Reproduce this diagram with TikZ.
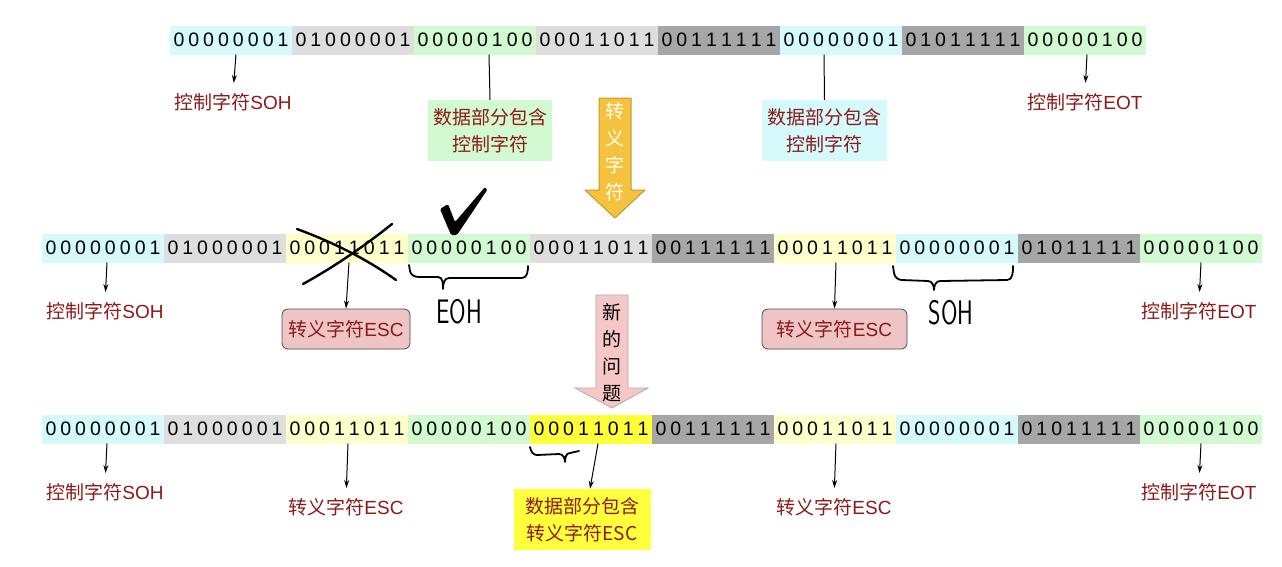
\documentclass[tikz,border=0pt]{standalone}
\usepackage{fontspec}
\setmainfont{Liberation Sans}
\newfontfamily\cjk{Noto Sans CJK SC}
\usetikzlibrary{arrows.meta}

\definecolor{cCyan}{HTML}{D4FAFC}
\definecolor{cLgray}{HTML}{DEDEDE}
\definecolor{cGreen}{HTML}{D2FAD0}
\definecolor{cDgray}{HTML}{A6A6A6}
\definecolor{cLyel}{HTML}{FFFFCC}
\definecolor{cByel}{HTML}{FFFF3C}
\definecolor{cRed}{HTML}{8C1A1A}
\definecolor{cPinkbox}{HTML}{EEC4C4}
\definecolor{cGold}{HTML}{F5C240}
\definecolor{cGoldEdge}{HTML}{C9982A}
\definecolor{cPinkArrow}{HTML}{F7C6C6}

\newcommand\bitsq[8]{\makebox[115pt]{#1\hfill#2\hfill#3\hfill#4\hfill#5\hfill#6\hfill#7\hfill#8}}

\tikzset{
  byte/.style={minimum width=122pt, minimum height=29pt, inner sep=0pt, outer sep=0pt,
    font=\fontsize{19.5}{19.5}\selectfont},
  lbl/.style={text=cRed, font=\fontsize{19}{22}\selectfont, inner sep=0pt},
  arr/.style={-{Stealth[length=8pt,width=5pt]}, line width=1pt},
  plainline/.style={line width=1pt},
  escbox/.style={rounded corners=6pt, fill=cPinkbox, draw=gray!60!black, line width=0.8pt,
    text=cRed, minimum height=40pt, inner sep=0pt, font=\fontsize{19}{22}\selectfont},
  databox/.style={text=cRed, minimum height=61pt, inner sep=0pt, align=center,
    font=\cjk\fontsize{19}{27}\selectfont},
  hand/.style={line width=2.4pt, line cap=round, line join=round},
  handtxt/.style={font=\sffamily\fontsize{34}{34}\selectfont, xscale=0.7, inner sep=0pt},
  vtxt/.style={align=center, inner sep=0pt, font=\cjk\fontsize{19}{27}\selectfont}
}

\begin{document}
\begin{tikzpicture}[x=1pt,y=-1pt]
\useasboundingbox (0,0) rectangle (1282,566);
\fill[white] (0,0) rectangle (1282,566);

% ---------------- top row ----------------
\node[byte,fill=cCyan]  (t1) at (231,40)  {\bitsq00000001};
\node[byte,fill=cLgray] (t2) at (353,40)  {\bitsq01000001};
\node[byte,fill=cGreen] (t3) at (475,40)  {\bitsq00000100};
\node[byte,fill=cLgray] (t4) at (597,40)  {\bitsq00011011};
\node[byte,fill=cDgray] (t5) at (719,40)  {\bitsq00111111};
\node[byte,fill=cCyan]  (t6) at (841,40)  {\bitsq00000001};
\node[byte,fill=cDgray] (t7) at (963,40)  {\bitsq01011111};
\node[byte,fill=cGreen] (t8) at (1085,40) {\bitsq00000100};

\node[lbl] (tl1) at (233,102) {{\cjk 控制字符}SOH};
\node[lbl] (tl4) at (1085,102) {{\cjk 控制字符}EOT};
\node[databox, fill=cGreen, minimum width=124pt] (tg) at (490,130.5) {数据部分包含\\控制字符};
\node[databox, fill=cCyan, minimum width=125pt] (tc) at (824.5,130.5) {数据部分包含\\控制字符};

\draw[arr, shorten >=10pt] ([xshift=5pt]t1.south) -- (tl1.north);
\draw[plainline] ([xshift=14pt]t3.south) -- (tg.north);
\draw[plainline] ([xshift=-17pt]t6.south) -- (tc.north);
\draw[arr, shorten >=10pt] ([xshift=2pt]t8.south) -- (tl4.north);

% golden arrow
\draw[fill=cGold, draw=cGoldEdge, line width=1pt]
  (599,98) -- (631,98) -- (631,190) -- (645,190) -- (615,218) -- (585,190) -- (599,190) -- cycle;
\node[vtxt, text=white!92!yellow] (escword) at (615,152) {转\\义\\字\\符};

% ---------------- middle row ----------------
\node[byte,fill=cCyan]  (m1)  at (103,248)  {\bitsq00000001};
\node[byte,fill=cLgray] (m2)  at (225,248)  {\bitsq01000001};
\node[byte,fill=cLyel]  (m3)  at (347,248)  {\bitsq00011011};
\node[byte,fill=cGreen] (m4)  at (469,248)  {\bitsq00000100};
\node[byte,fill=cLgray] (m5)  at (591,248)  {\bitsq00011011};
\node[byte,fill=cDgray] (m6)  at (713,248)  {\bitsq00111111};
\node[byte,fill=cLyel]  (m7)  at (835,248)  {\bitsq00011011};
\node[byte,fill=cCyan]  (m8)  at (957,248)  {\bitsq00000001};
\node[byte,fill=cDgray] (m9)  at (1079,248) {\bitsq01011111};
\node[byte,fill=cGreen] (m10) at (1201,248) {\bitsq00000100};

\node[lbl] (ml1) at (105,311) {{\cjk 控制字符}SOH};
\node[escbox, minimum width=128pt] (mb1) at (346,329) {{\cjk 转义字符}ESC};
\node[escbox, minimum width=145pt] (mb2) at (834.5,329) {{\cjk 转义字符}ESC};
\node[lbl] (ml4) at (1199,311) {{\cjk 控制字符}EOT};

\draw[arr, shorten >=10pt] ([xshift=4pt]m1.south) -- (ml1.north);
\draw[arr] ([xshift=2pt]m3.south) -- (mb1.north);
\draw[arr] ([xshift=1pt]m7.south) -- (mb2.north);
\draw[arr, shorten >=10pt] (m10.south) -- (ml4.north);

% hand-drawn marks
\draw[hand] (297,229) .. controls (335,243) and (368,260) .. (396,280);
\draw[hand] (392,224) .. controls (362,248) and (332,268) .. (303,284);
\fill[rounded corners=1.5pt] (440,209) -- (448,204) -- (455,222) -- (485,187) -- (487.5,189.5) -- (457,235) -- (451,235) -- cycle;
\draw[line width=1.8pt, line cap=round, line join=round]
  (409,265) -- (410,271) to[out=-80,in=180] (419,277) -- (438,277) to[out=0,in=90] (443,289)
  to[out=90,in=180] (449,278) -- (522,278) to[out=0,in=-90] (528,266);
\node[handtxt] (eoh) at (459,312) {EOH};
\draw[line width=1.8pt, line cap=round, line join=round]
  (893,266) -- (894,273) to[out=-80,in=180] (902,280) -- (928,281) to[out=0,in=90] (934,290)
  to[out=90,in=180] (940,281) -- (1007,280) to[out=0,in=-90] (1013,266);
\node[handtxt] (soh) at (951,313) {SOH};

% pink arrow
\draw[fill=cPinkArrow, draw=gray!65, line width=0.8pt]
  (596,295) -- (628,295) -- (628,388) -- (648,388) -- (612,408) -- (575,388) -- (596,388) -- cycle;
\node[vtxt, text=black] (newq) at (612,353) {新\\的\\问\\题};

% ---------------- bottom row ----------------
\node[byte,fill=cCyan]  (b1)  at (103,429)  {\bitsq00000001};
\node[byte,fill=cLgray] (b2)  at (225,429)  {\bitsq01000001};
\node[byte,fill=cLyel]  (b3)  at (347,429)  {\bitsq00011011};
\node[byte,fill=cGreen] (b4)  at (469,429)  {\bitsq00000100};
\node[byte,fill=cByel]  (b5)  at (591,429)  {\bitsq00011011};
\node[byte,fill=cDgray] (b6)  at (713,429)  {\bitsq00111111};
\node[byte,fill=cLyel]  (b7)  at (835,429)  {\bitsq00011011};
\node[byte,fill=cCyan]  (b8)  at (957,429)  {\bitsq00000001};
\node[byte,fill=cDgray] (b9)  at (1079,429) {\bitsq01011111};
\node[byte,fill=cGreen] (b10) at (1201,429) {\bitsq00000100};

\node[lbl] (bl1) at (105,492) {{\cjk 控制字符}SOH};
\node[lbl] (bl2) at (346,507) {{\cjk 转义字符}ESC};
\node[databox, fill=cByel, minimum width=137pt] (yb) at (582,519.5) {数据部分包含\\转义字符ESC};
\node[lbl] (bl4) at (834,507) {{\cjk 转义字符}ESC};
\node[lbl] (bl5) at (1199,492) {{\cjk 控制字符}EOT};

\draw[arr, shorten >=10pt] ([xshift=4pt]b1.south) -- (bl1.north);
\draw[arr, shorten >=10pt] ([xshift=1pt]b3.south) -- (bl2.north);
\draw[arr] ([xshift=7pt]b5.south) -- ([xshift=8pt]yb.north);
\draw[arr, shorten >=10pt] ([xshift=1pt]b7.south) -- (bl4.north);
\draw[arr, shorten >=10pt] (b10.south) -- (bl5.north);

\draw[line width=1.8pt, line cap=round, line join=round]
  (530,447) to[out=-80,in=180] (537,455) -- (559,454) to[out=0,in=90] (565,462)
  to[out=90,in=180] (570,453) -- (579,451);
\end{tikzpicture}
\end{document}
